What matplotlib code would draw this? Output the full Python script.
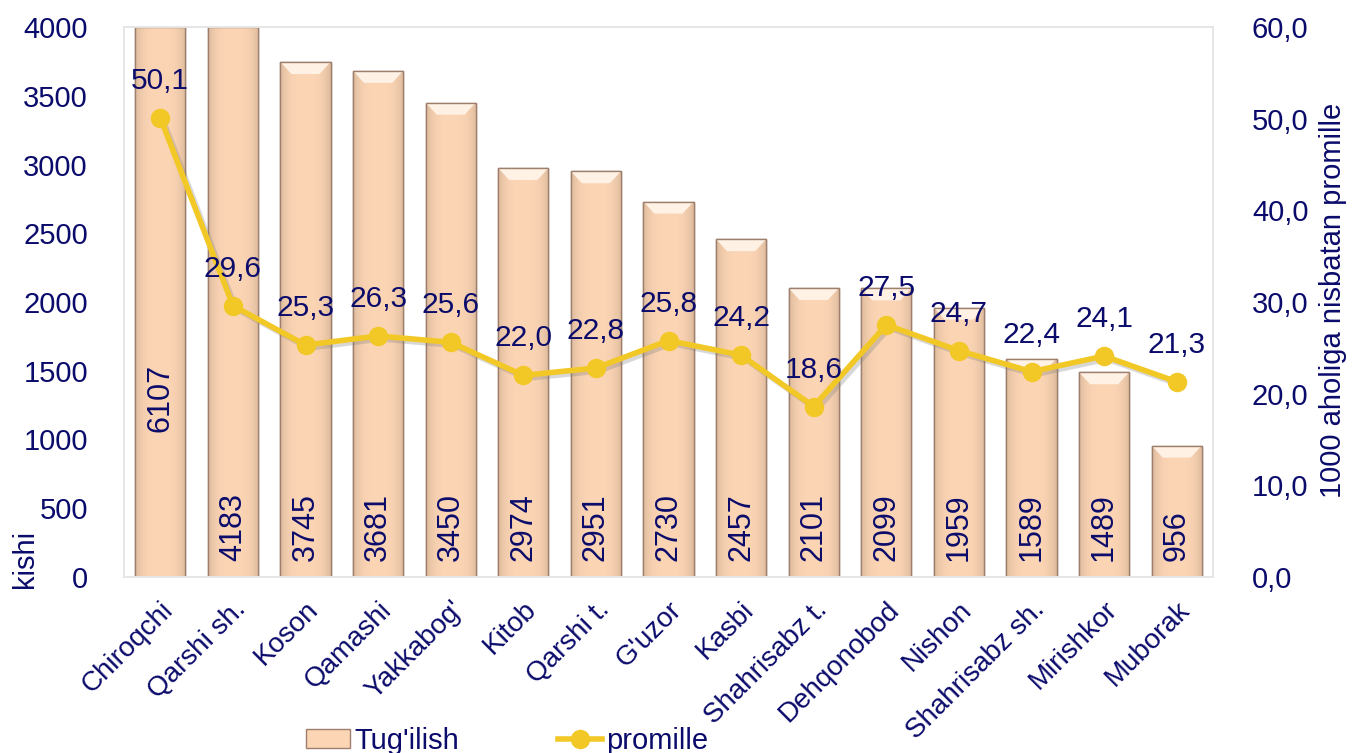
import numpy as np
import matplotlib
matplotlib.use("Agg")
import matplotlib.pyplot as plt
from matplotlib.patches import Polygon
import matplotlib.patheffects as pe
import matplotlib.transforms as mtransforms

plt.rcParams['font.family'] = ['Liberation Sans', 'DejaVu Sans']

categories = ["Chiroqchi", "Qarshi sh.", "Koson", "Qamashi", "Yakkabog'", "Kitob",
              "Qarshi t.", "G'uzor", "Kasbi", "Shahrisabz t.", "Dehqonobod", "Nishon",
              "Shahrisabz sh.", "Mirishkor", "Muborak"]
births = [6107, 4183, 3745, 3681, 3450, 2974, 2951, 2730, 2457, 2101, 2099, 1959, 1589, 1489, 956]
promille = [50.1, 29.6, 25.3, 26.3, 25.6, 22.0, 22.8, 25.8, 24.2, 18.6, 27.5, 24.7, 22.4, 24.1, 21.3]
left_ticks = [0, 500, 1000, 1500, 2000, 2500, 3000, 3500, 4000]
right_ticks = [0, 10, 20, 30, 40, 50, 60]

NAVY = '#0B0B6B'
GOLD = '#F2C827'
BAR = '#FCD5B4'
BAR_EDGE = '#9E7E6C'

W, H = 1358, 753
fig = plt.figure(figsize=(W / 100, H / 100), dpi=100)
ax = fig.add_axes([124 / W, (H - 577) / H, (1213 - 124) / W, 550 / H])
ax2 = ax.twinx()

x = np.arange(len(categories))
bw = 0.69
ymax = 4000
ax.set_xlim(-0.5, len(categories) - 0.5)
ax.set_ylim(0, ymax)

bars = ax.bar(x, births, width=bw, color=BAR, edgecolor=BAR_EDGE, linewidth=1.0, zorder=2)

# horizontal gradient shading and top bevel highlight
grad = np.linspace(-1, 1, 64)
shade = 1 - 0.12 * np.abs(grad) ** 3
base = np.array(matplotlib.colors.to_rgb(BAR))
img = np.clip(base[None, None, :] * shade[None, :, None], 0, 1)
bev_h = ymax * 12 / 550
for b, v in zip(bars, births):
    x0 = b.get_x()
    w = b.get_width()
    top = min(v, ymax)
    im = ax.imshow(img, extent=[x0, x0 + w, 0, top], aspect='auto', zorder=2.1)
    im.set_clip_path(b)
    if v <= ymax:
        poly = Polygon([[x0, top], [x0 + w, top], [x0 + w - w * 0.22, top - bev_h],
                        [x0 + w * 0.22, top - bev_h]], closed=True,
                       facecolor='#FFF2E4', edgecolor='none', zorder=2.2)
        ax.add_patch(poly)
    ax.add_patch(plt.Rectangle((x0, 0), w, top, fill=False, edgecolor=BAR_EDGE,
                               linewidth=1.0, zorder=2.3))

# bar value labels
for i, v in enumerate(births):
    if v > ymax * 1.3:
        ax.text(i, ymax * 0.325, str(v), rotation=90, ha='center', va='center',
                color=NAVY, fontsize=22, zorder=5)
    else:
        ax.annotate(str(v), (i, 0), xytext=(0, 16), textcoords='offset pixels',
                    rotation=90, ha='center', va='bottom', color=NAVY, fontsize=22, zorder=5)

ax.set_ylim(0, ymax)
ax.set_xlim(-0.5, len(categories) - 0.5)

# line with soft shadow
ax2.set_ylim(0, 60)
shadow_tr = ax2.transData + mtransforms.ScaledTranslation(3 / 100, -3 / 100, fig.dpi_scale_trans)
ax2.plot(x, promille, color='#808080', alpha=0.3, lw=4, transform=shadow_tr, zorder=5)
ax2.plot(x, promille, color=GOLD, lw=4, marker='o', markersize=13, zorder=6)
for i, v in enumerate(promille):
    ax2.annotate(f"{v:.1f}".replace('.', ','), (i, v), xytext=(0, 23),
                 textcoords='offset pixels', ha='center', va='bottom',
                 color=NAVY, fontsize=21.5, zorder=7)

ax.set_zorder(1)
ax2.set_zorder(2)
ax.patch.set_visible(False)

# ticks
ax.set_xticks(x)
ax.set_xticklabels(categories, rotation=45, ha='right', va='top', rotation_mode='anchor',
                   color=NAVY, fontsize=20)
ax.tick_params(axis='x', length=0, pad=14)
ax.set_yticks(left_ticks)
ax.set_yticklabels([str(t) for t in left_ticks], color=NAVY, fontsize=21)
ax.tick_params(axis='y', length=0, pad=26)
ax2.set_yticks(right_ticks)
ax2.set_yticklabels([f"{t:.1f}".replace('.', ',') for t in right_ticks], color=NAVY, fontsize=21)
ax2.tick_params(axis='y', length=0, pad=28)

for a in (ax, ax2):
    for s in a.spines.values():
        s.set_color('#E6E6E6')
        s.set_linewidth(1.2)

fig.text(25 / W, 1 - 559 / H, 'kishi', rotation=90, ha='center', va='center',
         color=NAVY, fontsize=21)
fig.text(1333 / W, 1 - 300 / H, '1000 aholiga nisbatan promille', rotation=90,
         ha='center', va='center', color=NAVY, fontsize=21)

# legend
from matplotlib.lines import Line2D
from matplotlib.patches import Patch
handles = [Patch(facecolor=BAR, edgecolor=BAR_EDGE, linewidth=1.0),
           Line2D([0], [0], color=GOLD, lw=4, marker='o', markersize=13)]
leg = fig.legend(handles, ["Tug'ilish", 'promille'], loc='center left',
                 bbox_to_anchor=(306 / W, 1 - 741 / H), ncol=2, frameon=False,
                 fontsize=21, labelcolor=NAVY, handlelength=1.5, handleheight=0.6,
                 handletextpad=0.15, columnspacing=3.4, borderaxespad=0, borderpad=0)

fig.savefig('out.png', dpi=100)
